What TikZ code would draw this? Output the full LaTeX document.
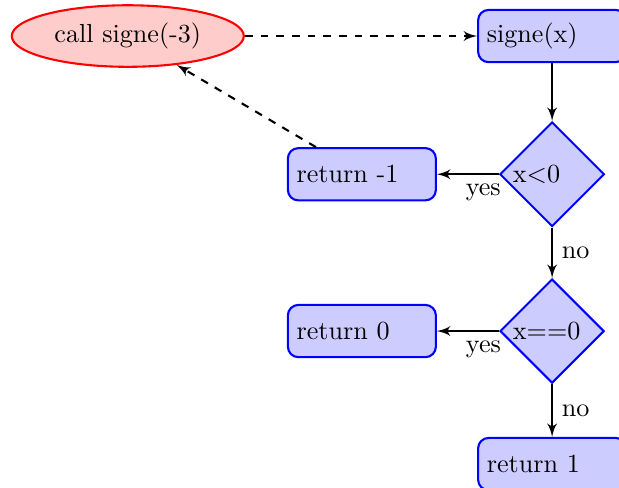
\documentclass[tikz,border=0pt]{standalone}
\usepackage{tikz}
\usetikzlibrary{shapes,arrows,arrows.meta}

\tikzset{
    block/.style={rectangle, draw=blue, thick, fill=blue!20, text width=5em, rounded corners, minimum height=2em},
    decision/.style={diamond, draw=blue, thick, fill=blue!20, text width=3em, inner sep=0.75pt},
    caller/.style={ellipse, draw=red, thick, fill=red!20, minimum height=2em},
    line/.style={draw, thick, -latex'}
}

\begin{document}
\begin{tikzpicture}
    \useasboundingbox (-7.43,-6.07) rectangle (0.9,0.485);

    % Function body
    \node [block] (signe) at (0,0) {signe(x)};
    \node [decision] (neg) at (0,-1.86) {x<0};
    \node [block] (retm1) at (-2.56,-1.86) {return -1};
    \node [decision] (zero) at (0,-3.97) {x==0};
    \node [block] (ret0) at (-2.56,-3.97) {return 0};
    \node [block] (ret1) at (0,-5.76) {return 1};

    % Call site
    \node [caller] (call) at (-5.71,0) {call signe(-3)};

    % Edges
    \path [line] (signe) -- (neg);
    \path [line] (neg) -- node [near start, below] {yes} (retm1);
    \path [line] (neg) -- node [right] {no} (zero);
    \path [line] (zero) -- node [near start, below] {yes} (ret0);
    \path [line] (zero) -- node [right] {no} (ret1);
    \path [line, dashed] (call) -- (signe);
    \path [line, dashed] (retm1) -- (call);
\end{tikzpicture}
\end{document}
